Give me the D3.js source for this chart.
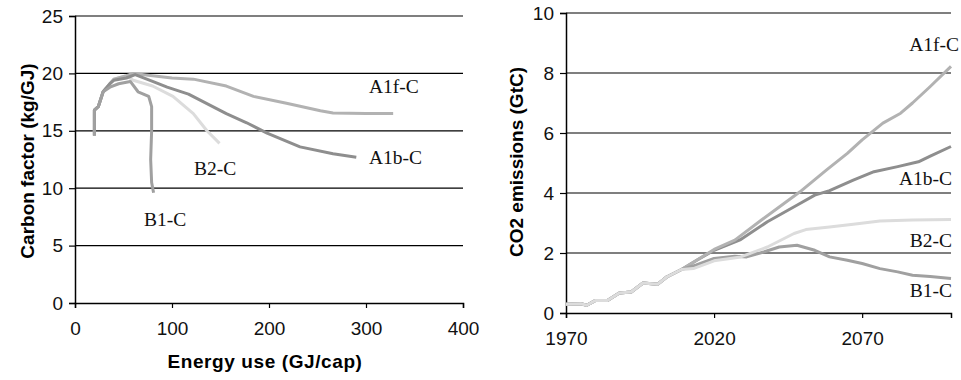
<!DOCTYPE html>
<html>
<head>
<meta charset="utf-8">
<script src="https://cdn.jsdelivr.net/npm/d3@7"></script>
<style>
  body { margin: 0; background: #fff; }
  svg text { font-family: "Liberation Sans", Arial, sans-serif; }
  .lbl { font-family: "Liberation Serif", "Times New Roman", serif !important; font-size: 19.5px; fill: #111; }
</style>
</head>
<body>
<svg id="chart" width="961" height="380"></svg>
<script>
// left panel: energy use (GJ/cap) vs carbon factor (kg/GJ)
var a1fEnergy = [20, 20, 24, 29, 36, 40, 53, 60, 80, 100, 122, 156, 184, 218, 253, 266, 300, 328];
var a1fCarbon = [14.6, 16.8, 17.1, 18.4, 19.1, 19.5, 19.8, 20.0, 19.8, 19.6, 19.5, 18.9, 18.0, 17.4, 16.75, 16.55, 16.5, 16.5];
var a1bEnergy = [20, 20, 24, 29, 36, 40, 53, 62, 80, 95, 117, 156, 177, 198, 232, 266, 290];
var a1bCarbon = [14.6, 16.8, 17.1, 18.4, 19.1, 19.4, 19.6, 19.9, 19.3, 18.8, 18.2, 16.5, 15.7, 14.8, 13.6, 13.0, 12.7];
var b2Energy = [20, 20, 24, 29, 36, 40, 53, 60, 80, 101, 122, 136, 149];
var b2Carbon = [14.6, 16.8, 17.1, 18.4, 19.1, 19.5, 19.8, 19.4, 18.9, 18.0, 16.5, 15.0, 13.9];
var b1Energy = [20, 20, 24, 29, 36, 45, 57, 65, 76, 79, 79, 78, 79, 81];
var b1Carbon = [14.6, 16.8, 17.1, 18.4, 18.8, 19.1, 19.3, 18.4, 18.0, 17.1, 15.0, 12.5, 10.5, 9.6];

// right panel: CO2 emissions (GtC) by year
var baseYears = [1970, 1975, 1977, 1980, 1984, 1988, 1992, 1996, 2001, 2004, 2009];
var baseCo2 = [0.29, 0.31, 0.26, 0.42, 0.42, 0.67, 0.70, 1.0, 0.96, 1.2, 1.45];
var a1fYears = [2014, 2020, 2027, 2036, 2049, 2058, 2065, 2070, 2077, 2083, 2087, 2093, 2100];
var a1fCo2 = [1.75, 2.12, 2.43, 3.1, 4.04, 4.77, 5.32, 5.77, 6.33, 6.66, 7.0, 7.55, 8.22];
var a1bYears = [2014, 2020, 2029, 2038, 2049, 2054, 2059, 2067, 2074, 2082, 2089, 2093, 2100];
var a1bCo2 = [1.75, 2.09, 2.45, 3.04, 3.65, 3.93, 4.08, 4.43, 4.71, 4.88, 5.04, 5.23, 5.55];
var b2Years = [2013, 2020, 2029, 2038, 2047, 2051, 2059, 2067, 2076, 2087, 2100];
var b2Co2 = [1.48, 1.74, 1.87, 2.2, 2.65, 2.78, 2.87, 2.96, 3.07, 3.1, 3.12];
var b1Years = [2014, 2020, 2027, 2031, 2037, 2042, 2048, 2054, 2059, 2065, 2070, 2076, 2082, 2087, 2093, 2100];
var b1Co2 = [1.6, 1.82, 1.89, 1.87, 2.04, 2.2, 2.26, 2.09, 1.87, 1.76, 1.65, 1.48, 1.37, 1.26, 1.22, 1.15];

var yTicksLeft = [0, 5, 10, 15, 20, 25];
var xTicksLeft = [0, 100, 200, 300, 400];
var yTicksRight = [0, 2, 4, 6, 8, 10];
var xTicksRight = [1970, 2020, 2070];

var svg = d3.select("#chart");

function zip(xs, ys) {
    return xs.map(function(x, i){ return [x, ys[i]]; });
}

function drawPanel(opt) {
    var g = svg.append("g");
    var x = opt.x, y = opt.y;

    // gridlines
    g.selectAll(".grid").data(opt.yTicks.filter(function(d){ return d > 0; }))
        .enter().append("line")
        .attr("x1", x.range()[0]).attr("x2", x.range()[1])
        .attr("y1", function(d){ return y(d); }).attr("y2", function(d){ return y(d); })
        .attr("stroke", "#000").attr("stroke-width", 1.2);

    var yAxis = g.append("g")
        .attr("transform", "translate(" + x.range()[0] + ",0)")
        .call(d3.axisLeft(y).tickValues(opt.yTicks).tickSize(6).tickPadding(6));
    var xAxis = g.append("g")
        .attr("transform", "translate(0," + y.range()[0] + ")")
        .call(d3.axisBottom(x).tickValues(opt.xTicks).tickSize(5).tickPadding(14).tickFormat(d3.format("d")));
    [yAxis, xAxis].forEach(function(a){
        a.select(".domain").attr("stroke", "#000").attr("stroke-width", 1.5);
        a.selectAll(".tick line").attr("stroke", "#000").attr("stroke-width", 1.2);
        a.selectAll("text").attr("font-size", "19px").attr("fill", "#111")
            .style("font-family", "Liberation Sans, Arial, sans-serif");
    });

    var line = d3.line()
        .x(function(d){ return x(d[0]); })
        .y(function(d){ return y(d[1]); })
        .curve(d3.curveLinear);

    opt.series.forEach(function(s){
        g.append("path")
            .datum(s.data)
            .attr("d", line)
            .attr("fill", "none")
            .attr("stroke", s.color)
            .attr("stroke-width", 3)
            .attr("stroke-linejoin", "round");
    });

    opt.labels.forEach(function(l){
        g.append("text").attr("class", "lbl")
            .attr("x", l.x).attr("y", l.y)
            .attr("text-anchor", l.anchor || "start")
            .text(l.text);
    });

    if (opt.xTitle) {
        g.append("text")
            .attr("x", opt.xTitle.x).attr("y", opt.xTitle.y)
            .attr("text-anchor", "middle")
            .attr("font-size", "19px").attr("font-weight", "bold")
            .attr("letter-spacing", "0.6px")
            .text(opt.xTitle.text);
    }
    g.append("text")
        .attr("transform", "translate(" + opt.yTitle.x + "," + opt.yTitle.y + ") rotate(-90)")
        .attr("text-anchor", "middle")
        .attr("font-size", "19px").attr("font-weight", "bold")
        .text(opt.yTitle.text);
}

// left chart
var xLeft = d3.scaleLinear().domain([0, 400]).range([75, 463]);
var yLeft = d3.scaleLinear().domain([0, 25]).range([303, 16]);
drawPanel({
    x: xLeft, y: yLeft,
    yTicks: yTicksLeft, xTicks: xTicksLeft,
    series: [
        {data: zip(b2Energy, b2Carbon), color: "#dcdcdc"},
        {data: zip(a1fEnergy, a1fCarbon), color: "#b2b2b2"},
        {data: zip(a1bEnergy, a1bCarbon), color: "#8e8e8e"},
        {data: zip(b1Energy, b1Carbon), color: "#a0a0a0"}
    ],
    labels: [
        {text: "A1f-C", x: 369, y: 93},
        {text: "A1b-C", x: 369, y: 164},
        {text: "B2-C", x: 194, y: 175},
        {text: "B1-C", x: 144, y: 226}
    ],
    xTitle: {text: "Energy use (GJ/cap)", x: 265, y: 368},
    yTitle: {text: "Carbon factor (kg/GJ)", x: 34, y: 161}
});

// right chart
var xRight = d3.scaleLinear().domain([1970, 2100]).range([566, 951]);
var yRight = d3.scaleLinear().domain([0, 10]).range([313, 13]);
var base = zip(baseYears, baseCo2);
drawPanel({
    x: xRight, y: yRight,
    yTicks: yTicksRight, xTicks: xTicksRight,
    series: [
        {data: base.concat(zip(a1bYears, a1bCo2)), color: "#8e8e8e"},
        {data: base.concat(zip(a1fYears, a1fCo2)), color: "#b2b2b2"},
        {data: base.concat(zip(b1Years, b1Co2)), color: "#a0a0a0"},
        {data: base.concat(zip(b2Years, b2Co2)), color: "#dcdcdc"}
    ],
    labels: [
        {text: "A1f-C", x: 959, y: 51, anchor: "end"},
        {text: "A1b-C", x: 952, y: 185, anchor: "end"},
        {text: "B2-C", x: 952, y: 247, anchor: "end"},
        {text: "B1-C", x: 952, y: 297, anchor: "end"}
    ],
    yTitle: {text: "CO2 emissions (GtC)", x: 523, y: 162}
});
</script>
</body>
</html>
